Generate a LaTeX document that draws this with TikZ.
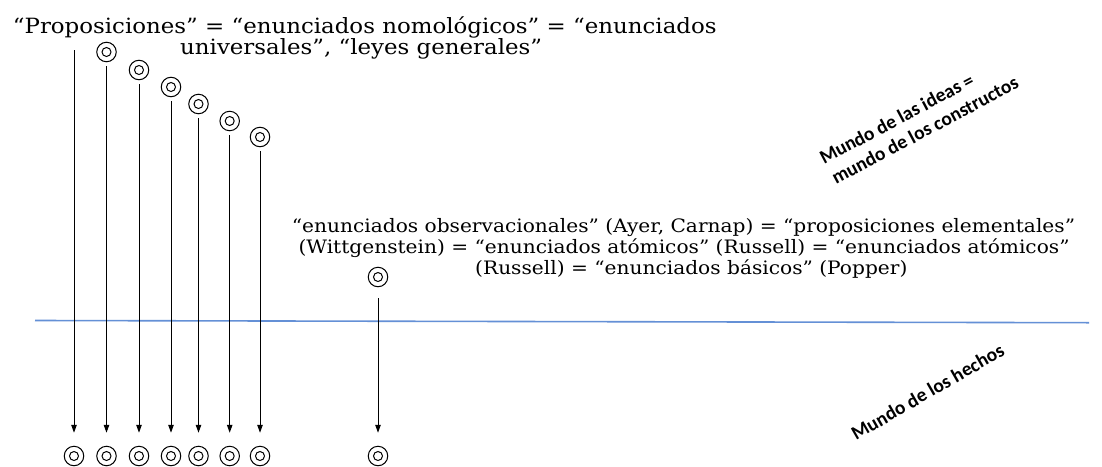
\documentclass[tikz,border=0pt]{standalone}
\usepackage{fontspec}
\setmainfont{DejaVu Serif}
\newfontfamily\wideserif[FakeStretch=1.09]{DejaVu Serif}
\newfontfamily\calib{Carlito}
\usetikzlibrary{arrows.meta}
\definecolor{lineblue}{RGB}{100,144,214}
\tikzset{
  bull/.style={circle, draw, line width=1pt, minimum size=19.5pt, inner sep=0pt,
    path picture={\draw[line width=1pt] (path picture bounding box.center) circle (4.5pt);}},
  arr/.style={line width=1pt, -{Triangle[length=8pt,width=5.5pt]}, shorten >=13pt},
  bigtxt/.style={font=\wideserif\fontsize{21}{21}\selectfont, anchor=base west, inner sep=0pt},
  midtxt/.style={font=\wideserif\fontsize{18.5}{21}\selectfont, anchor=base west, inner sep=0pt},
  world/.style={font=\calib\bfseries\fontsize{19.5}{22}\selectfont, anchor=base west, inner sep=0pt}
}
\begin{document}
\begin{tikzpicture}[x=1pt,y=-1pt]
\path[fill=white,use as bounding box] (0,0) rectangle (1102,466);
% top text
\node[bigtxt] (p1) at (12.7,33) {“Proposiciones” = “enunciados nomológicos” = “enunciados};
\node[bigtxt] (p2) at (180,54) {universales”, “leyes generales”};
% middle text
\node[midtxt] (m1) at (291.7,232) {“enunciados observacionales” (Ayer, Carnap) = “proposiciones elementales”};
\node[midtxt] (m2) at (298.3,253) {(Wittgenstein) = “enunciados atómicos” (Russell) = “enunciados atómicos”};
\node[midtxt] (m3) at (475,274) {(Russell) = “enunciados básicos” (Popper)};
% world labels
\node[world, rotate=28] (wi1) at (824,165) {Mundo de las ideas =};
\node[world, rotate=28] (wi2) at (836,185) {mundo de los constructos};
\node[world, rotate=30] (wh) at (856,441) {Mundo de los hechos};
% separator
\coordinate (sl) at (35,320.5);
\coordinate (sr) at (1089,322.7);
\draw[lineblue, line width=1.6pt] (sl) -- (sr);
% top circles
\coordinate (t1) at (74,50);
\node[bull] (t2) at (106.5,52) {};
\node[bull] (t3) at (139,70) {};
\node[bull] (t4) at (171,87) {};
\node[bull] (t5) at (198.5,104) {};
\node[bull] (t6) at (229.7,121) {};
\node[bull] (t7) at (260,137) {};
\node[bull] (t8) at (378,277) {};
% bottom circles
\node[bull] (b1) at (74,456) {};
\node[bull] (b2) at (106.5,456) {};
\node[bull] (b3) at (139,456) {};
\node[bull] (b4) at (171,456) {};
\node[bull] (b5) at (198.5,456) {};
\node[bull] (b6) at (229.7,456) {};
\node[bull] (b7) at (260,456) {};
\node[bull] (b8) at (378,456) {};
% arrows
\draw[arr] (t1) -- (b1.north);
\foreach \i in {2,...,7}{
  \draw[arr, shorten <=4pt] (t\i.south) -- (b\i.north);
}
\draw[arr, shorten <=11pt] (t8.south) -- (b8.north);
\end{tikzpicture}
\end{document}
